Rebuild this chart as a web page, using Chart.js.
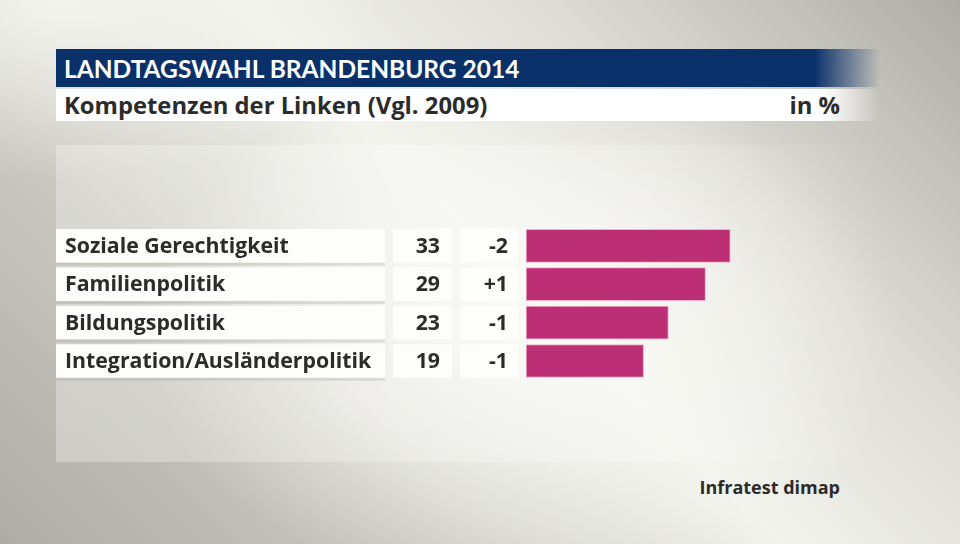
<!DOCTYPE html>
<html>
<head>
<meta charset="utf-8">
<script src="https://cdn.jsdelivr.net/npm/chart.js@4.4.1/dist/chart.umd.min.js"></script>
<style>
  html, body { margin: 0; padding: 0; }
  body {
    width: 960px; height: 544px; position: relative; overflow: hidden;
    font-family: "Open Sans", Lato, sans-serif;
    background:
      radial-gradient(ellipse 380px 260px at 520px 330px, rgba(248,248,244,0.9) 0%, rgba(248,248,244,0.5) 55%, rgba(248,248,244,0) 100%),
      radial-gradient(ellipse 320px 180px at 60px 0px, rgba(246,246,241,0.9) 0%, rgba(246,246,241,0) 100%),
      linear-gradient(45deg, #aeada5 0%, #c9c8c1 28%, #f3f3ee 52%, #dddcd6 72%, #aeada5 100%);
  }
  .panel {
    position: absolute; left: 56px; top: 145px; width: 830px; height: 317px;
    background: linear-gradient(to right, rgba(255,255,255,0.3) 0%, rgba(255,255,255,0.2) 70%, rgba(255,255,255,0) 100%);
  }
  .head {
    position: absolute; left: 56px; top: 49px; width: 824px; height: 38px;
    background: linear-gradient(to right, #0a3069 0%, #0a3069 92%, rgba(10,48,105,0) 100%);
    color: #fff; font-family: Lato, sans-serif; font-weight: bold; font-size: 24.5px; line-height: 40px;
    padding-left: 8px; box-sizing: border-box;
  }
  .sub {
    position: absolute; left: 56px; top: 89px; width: 824px; height: 32px;
    background: linear-gradient(to right, #fff 0%, #fff 93%, rgba(255,255,255,0) 100%);
    color: #2b2b2b; font-weight: bold; font-size: 23.8px; line-height: 33px;
    padding-left: 8px; box-sizing: border-box;
  }
  .unit { position: absolute; right: 40px; top: 0; }
  .src {
    position: absolute; right: 120px; top: 475px;
    color: #2b2b2b; font-weight: bold; font-size: 18px;
  }
  canvas { position: absolute; left: 0; top: 0; }
</style>
</head>
<body>
<div class="panel"></div>
<div class="head">LANDTAGSWAHL BRANDENBURG 2014</div>
<div class="sub">Kompetenzen der Linken (Vgl. 2009)<span class="unit">in %</span></div>
<div class="src">Infratest dimap</div>
<canvas id="chart" width="960" height="544"></canvas>
<script>
// Kompetenzen der Linken, Anteil in %
var categories = ["Soziale Gerechtigkeit", "Familienpolitik", "Bildungspolitik", "Integration/Ausländerpolitik"];
var values = [33, 29, 23, 19];
var changes = [-2, 1, -1, -1];

function fmtChange(v) {
  return v > 0 ? "+" + v : String(v);
}

// white label / value / change boxes left of the bars
var rowBoxes = {
  id: "rowBoxes",
  beforeDatasetsDraw: function (chart) {
    var ctx = chart.ctx;
    var ys = chart.scales.y;
    ctx.save();
    for (var i = 0; i < categories.length; i++) {
      var y = ys.getPixelForValue(i);
      var h = 33.5;
      // faint shadow below label box
      ctx.fillStyle = "rgba(120,120,110,0.18)";
      ctx.fillRect(56, y + h / 2, 329, 3);
      ctx.fillStyle = "#fdfdfc";
      ctx.fillRect(56, y - h / 2, 329, h);
      ctx.fillRect(393, y - h / 2, 59, h);
      ctx.fillRect(460, y - h / 2, 58, h);
      ctx.fillStyle = "#2b2b2b";
      ctx.font = "bold 21.3px 'Open Sans', Lato, sans-serif";
      ctx.textBaseline = "middle";
      ctx.textAlign = "left";
      ctx.fillText(categories[i], 65, y + 1);
      ctx.textAlign = "right";
      ctx.fillText(String(values[i]), 440, y + 1);
      ctx.fillText(fmtChange(changes[i]), 508, y + 1);
    }
    ctx.restore();
  }
};

new Chart(document.getElementById("chart"), {
  type: "bar",
  data: {
    labels: categories,
    datasets: [{
      data: values,
      backgroundColor: "#bd2f74",
      borderColor: "rgba(240,170,200,0.9)",
      borderWidth: 1,
      borderSkipped: false,
      barThickness: 33
    }]
  },
  options: {
    indexAxis: "y",
    responsive: false,
    animation: false,
    layout: { padding: { left: 526, right: 124.5, top: 226.6, bottom: 163.8 } },
    scales: {
      x: { display: false, min: 0, max: 50 },
      y: { display: false }
    },
    plugins: { legend: { display: false }, tooltip: { enabled: false } }
  },
  plugins: [rowBoxes]
});
</script>
</body>
</html>
